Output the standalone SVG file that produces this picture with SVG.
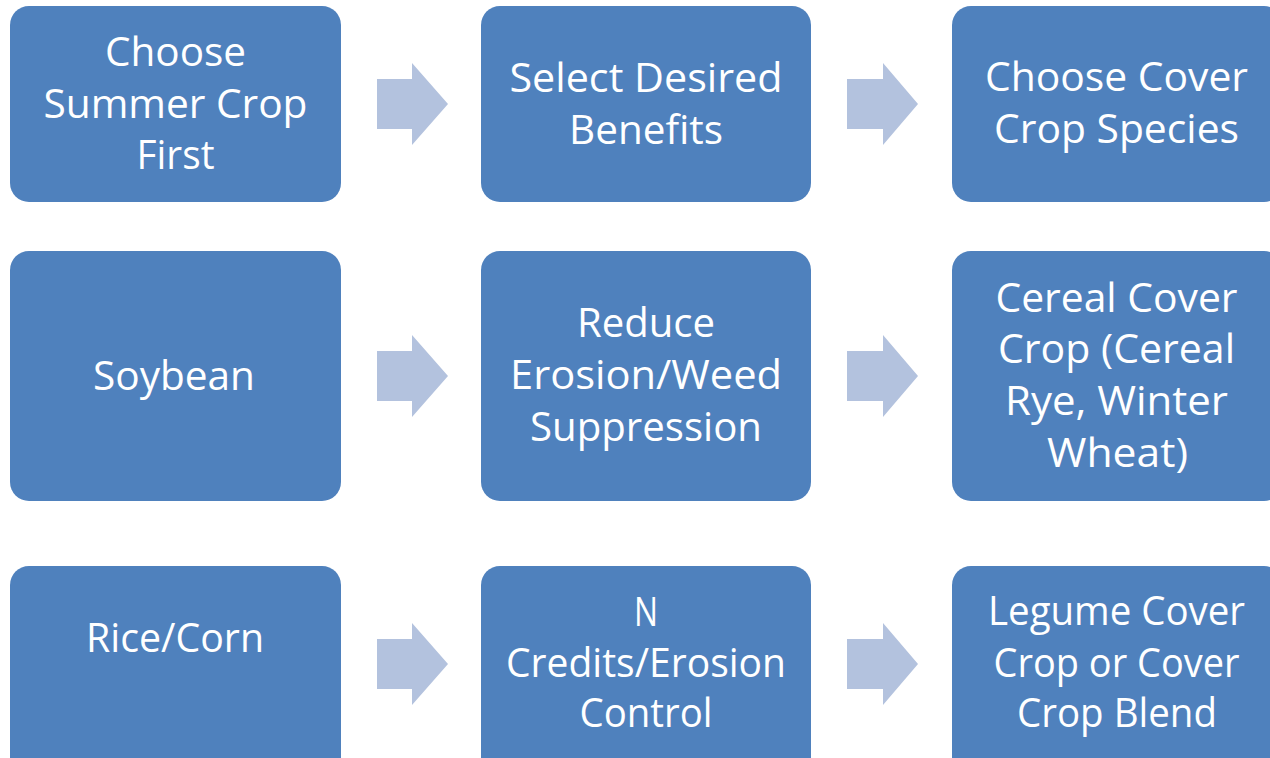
<svg xmlns="http://www.w3.org/2000/svg" width="1270" height="758" viewBox="0 0 1270 758">
<style>
.box{fill:#4F81BD}
.arr{fill:#B3C2DE}
text{font-family:"Open Sans","Liberation Sans",sans-serif;font-size:40px;fill:#FFFFFF;text-anchor:middle}
</style>
<rect width="1270" height="758" fill="#FFFFFF"/>
<g id="connectors">
<polygon class="arr" points="377,79 412,79 412,63 448,104 412,145 412,129 377,129"/>
<polygon class="arr" points="847,79 883,79 883,63 918,104 883,145 883,129 847,129"/>
<polygon class="arr" points="377,351 412,351 412,335 448,376 412,417 412,401 377,401"/>
<polygon class="arr" points="847,351 883,351 883,335 918,376 883,417 883,401 847,401"/>
<polygon class="arr" points="377,639 412,639 412,623 448,664 412,705 412,689 377,689"/>
<polygon class="arr" points="847,639 883,639 883,623 918,664 883,705 883,689 847,689"/>
</g>
<g id="n1">
<rect class="box" x="10" y="6" width="331" height="196" rx="19"/>
<text x="175.5" y="66" textLength="141" lengthAdjust="spacingAndGlyphs">Choose</text>
<text x="175.5" y="118" textLength="264" lengthAdjust="spacingAndGlyphs">Summer Crop</text>
<text x="175.5" y="169" textLength="78" lengthAdjust="spacingAndGlyphs">First</text>
</g>
<g id="n2">
<rect class="box" x="481" y="6" width="330" height="196" rx="19"/>
<text x="646" y="92" textLength="273" lengthAdjust="spacingAndGlyphs">Select Desired</text>
<text x="646" y="144" textLength="154" lengthAdjust="spacingAndGlyphs">Benefits</text>
</g>
<g id="n3">
<rect class="box" x="952" y="6" width="331" height="196" rx="19"/>
<text x="1116.5" y="91" textLength="263" lengthAdjust="spacingAndGlyphs">Choose Cover</text>
<text x="1116.5" y="143" textLength="245" lengthAdjust="spacingAndGlyphs">Crop Species</text>
</g>
<g id="n4">
<rect class="box" x="10" y="251" width="331" height="250" rx="19"/>
<text x="174" y="390" textLength="162" lengthAdjust="spacingAndGlyphs">Soybean</text>
</g>
<g id="n5">
<rect class="box" x="481" y="251" width="330" height="250" rx="19"/>
<text x="646" y="337" textLength="138" lengthAdjust="spacingAndGlyphs">Reduce</text>
<text x="646" y="389" textLength="272" lengthAdjust="spacingAndGlyphs">Erosion/Weed</text>
<text x="646" y="441" textLength="232" lengthAdjust="spacingAndGlyphs">Suppression</text>
</g>
<g id="n6">
<rect class="box" x="952" y="251" width="331" height="250" rx="19"/>
<text x="1116.5" y="312" textLength="242" lengthAdjust="spacingAndGlyphs">Cereal Cover</text>
<text x="1116.5" y="363" textLength="237" lengthAdjust="spacingAndGlyphs">Crop (Cereal</text>
<text x="1116.5" y="415" textLength="223" lengthAdjust="spacingAndGlyphs">Rye, Winter</text>
<text x="1117.5" y="467" textLength="141" lengthAdjust="spacingAndGlyphs">Wheat)</text>
</g>
<g id="n7">
<rect class="box" x="10" y="566" width="331" height="250" rx="19"/>
<text x="175" y="652" textLength="178" lengthAdjust="spacingAndGlyphs">Rice/Corn</text>
</g>
<g id="n8">
<rect class="box" x="481" y="566" width="330" height="250" rx="19"/>
<text x="646" y="626" textLength="24" lengthAdjust="spacingAndGlyphs">N</text>
<text x="646" y="677" textLength="280" lengthAdjust="spacingAndGlyphs">Credits/Erosion</text>
<text x="646" y="727" textLength="133" lengthAdjust="spacingAndGlyphs">Control</text>
</g>
<g id="n9">
<rect class="box" x="952" y="566" width="331" height="250" rx="19"/>
<text x="1116.5" y="625" textLength="257" lengthAdjust="spacingAndGlyphs">Legume Cover</text>
<text x="1116.5" y="677" textLength="246" lengthAdjust="spacingAndGlyphs">Crop or Cover</text>
<text x="1117" y="727" textLength="200" lengthAdjust="spacingAndGlyphs">Crop Blend</text>
</g>
</svg>
